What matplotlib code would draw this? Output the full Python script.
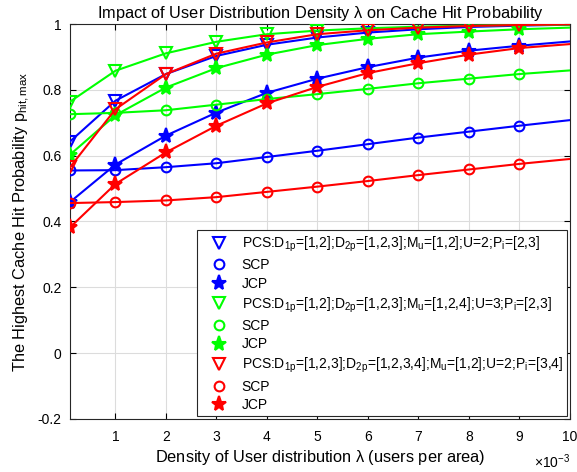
import matplotlib
matplotlib.use("Agg")
import matplotlib.pyplot as plt
from matplotlib.lines import Line2D

plt.rcParams['font.family'] = ['Liberation Sans', 'DejaVu Sans']
plt.rcParams['mathtext.fontset'] = 'custom'
plt.rcParams['mathtext.rm'] = 'Liberation Sans'
plt.rcParams['mathtext.it'] = 'Liberation Sans'

density = [0.0001, 0.001, 0.002, 0.003, 0.004, 0.005, 0.006, 0.007, 0.008, 0.009, 0.010]

blue_pcs = [0.643, 0.767, 0.848, 0.903, 0.937, 0.959, 0.974, 0.984, 0.991, 0.995, 0.998]
blue_scp = [0.555, 0.556, 0.565, 0.577, 0.596, 0.615, 0.635, 0.655, 0.673, 0.691, 0.708]
blue_jcp = [0.459, 0.573, 0.661, 0.731, 0.791, 0.834, 0.869, 0.898, 0.919, 0.934, 0.947]

green_pcs = [0.764, 0.858, 0.911, 0.946, 0.969, 0.980, 0.987, 0.992, 0.995, 0.997, 0.998]
green_scp = [0.726, 0.730, 0.738, 0.755, 0.772, 0.787, 0.803, 0.820, 0.834, 0.848, 0.859]
green_jcp = [0.603, 0.723, 0.807, 0.866, 0.907, 0.936, 0.955, 0.969, 0.977, 0.984, 0.989]

red_pcs = [0.565, 0.741, 0.848, 0.910, 0.944, 0.969, 0.981, 0.989, 0.994, 0.997, 0.999]
red_scp = [0.456, 0.459, 0.464, 0.474, 0.490, 0.506, 0.523, 0.541, 0.558, 0.575, 0.590]
red_jcp = [0.382, 0.514, 0.610, 0.691, 0.759, 0.809, 0.851, 0.881, 0.907, 0.927, 0.939]

legend_labels = [
    r'PCS:D$_{1p}$=[1,2];D$_{2p}$=[1,2,3];M$_{u}$=[1,2];U=2;P$_{i}$=[2,3]', 'SCP', 'JCP',
    r'PCS:D$_{1p}$=[1,2];D$_{2p}$=[1,2,3];M$_{u}$=[1,2,4];U=3;P$_{i}$=[2,3]', 'SCP', 'JCP',
    r'PCS:D$_{1p}$=[1,2,3];D$_{2p}$=[1,2,3,4];M$_{u}$=[1,2];U=2;P$_{i}$=[3,4]', 'SCP', 'JCP',
]
xtick_vals = [0.001, 0.002, 0.003, 0.004, 0.005, 0.006, 0.007, 0.008, 0.009, 0.010]
xtick_labels = ['1', '2', '3', '4', '5', '6', '7', '8', '9', '10']
ytick_vals = [-0.2, 0, 0.2, 0.4, 0.6, 0.8, 1.0]
ytick_labels = ['-0.2', '0', '0.2', '0.4', '0.6', '0.8', '1']

fig = plt.figure(figsize=(5.77, 4.72), dpi=100)
ax = fig.add_axes([70/577, 53/472, 500/577, 395/472])

series = [
    (blue_pcs, (0, 0, 1), 'v'), (blue_scp, (0, 0, 1), 'o'), (blue_jcp, (0, 0, 1), '*'),
    (green_pcs, (0, 1, 0), 'v'), (green_scp, (0, 1, 0), 'o'), (green_jcp, (0, 1, 0), '*'),
    (red_pcs, (1, 0, 0), 'v'), (red_scp, (1, 0, 0), 'o'), (red_jcp, (1, 0, 0), '*'),
]
msizes = {'v': 8, 'o': 7, '*': 11}
handles = []
for vals, col, mk in series:
    filled = mk == '*'
    ms = msizes[mk]
    ax.plot(density, vals, color=col, lw=1.5, marker=mk, ms=ms, mew=1.5,
            mfc=col if filled else 'none', mec=col, markevery=list(range(10)), zorder=3)
    handles.append(Line2D([], [], ls='none', marker=mk, color=col, ms=ms, mew=1.5,
                          mfc=col if filled else 'none', mec=col))

ax.set_xlim(0.0001, 0.010)
ax.set_ylim(-0.2, 1.0)
ax.set_xticks(xtick_vals)
ax.set_xticklabels(xtick_labels)
ax.set_yticks(ytick_vals)
ax.set_yticklabels(ytick_labels)
ax.tick_params(direction='in', labelsize=10, length=4, top=True, right=True)
ax.tick_params(axis='x', pad=8)
ax.tick_params(axis='y', pad=6)
ax.grid(True, color='#dcdcdc', lw=0.8)
ax.set_axisbelow(True)
for s in ax.spines.values():
    s.set_color('#262626')
    s.set_linewidth(0.8)

ax.set_title(r'Impact of User Distribution Density $\lambda$ on Cache Hit Probability', fontsize=11.8, pad=4)
ax.set_xlabel(r'Density of User distribution $\lambda$ (users per area)', fontsize=11.8, labelpad=3)
ax.set_ylabel(r'The Highest Cache Hit Probability p$_{\rm hit,max}$', fontsize=11.8, labelpad=4)
ax.text(1.0, -0.085, r'$\times$10$^{-3}$', transform=ax.transAxes, ha='right', va='top', fontsize=10)

leg = ax.legend(handles, legend_labels, loc='lower right', fontsize=10, frameon=True, fancybox=False,
                edgecolor='#262626', framealpha=1, borderpad=0.3, labelspacing=0.32,
                handlelength=2.6, handletextpad=0.3, borderaxespad=0.2)
leg.get_frame().set_linewidth(0.8)

fig.savefig('out.png', dpi=100)
